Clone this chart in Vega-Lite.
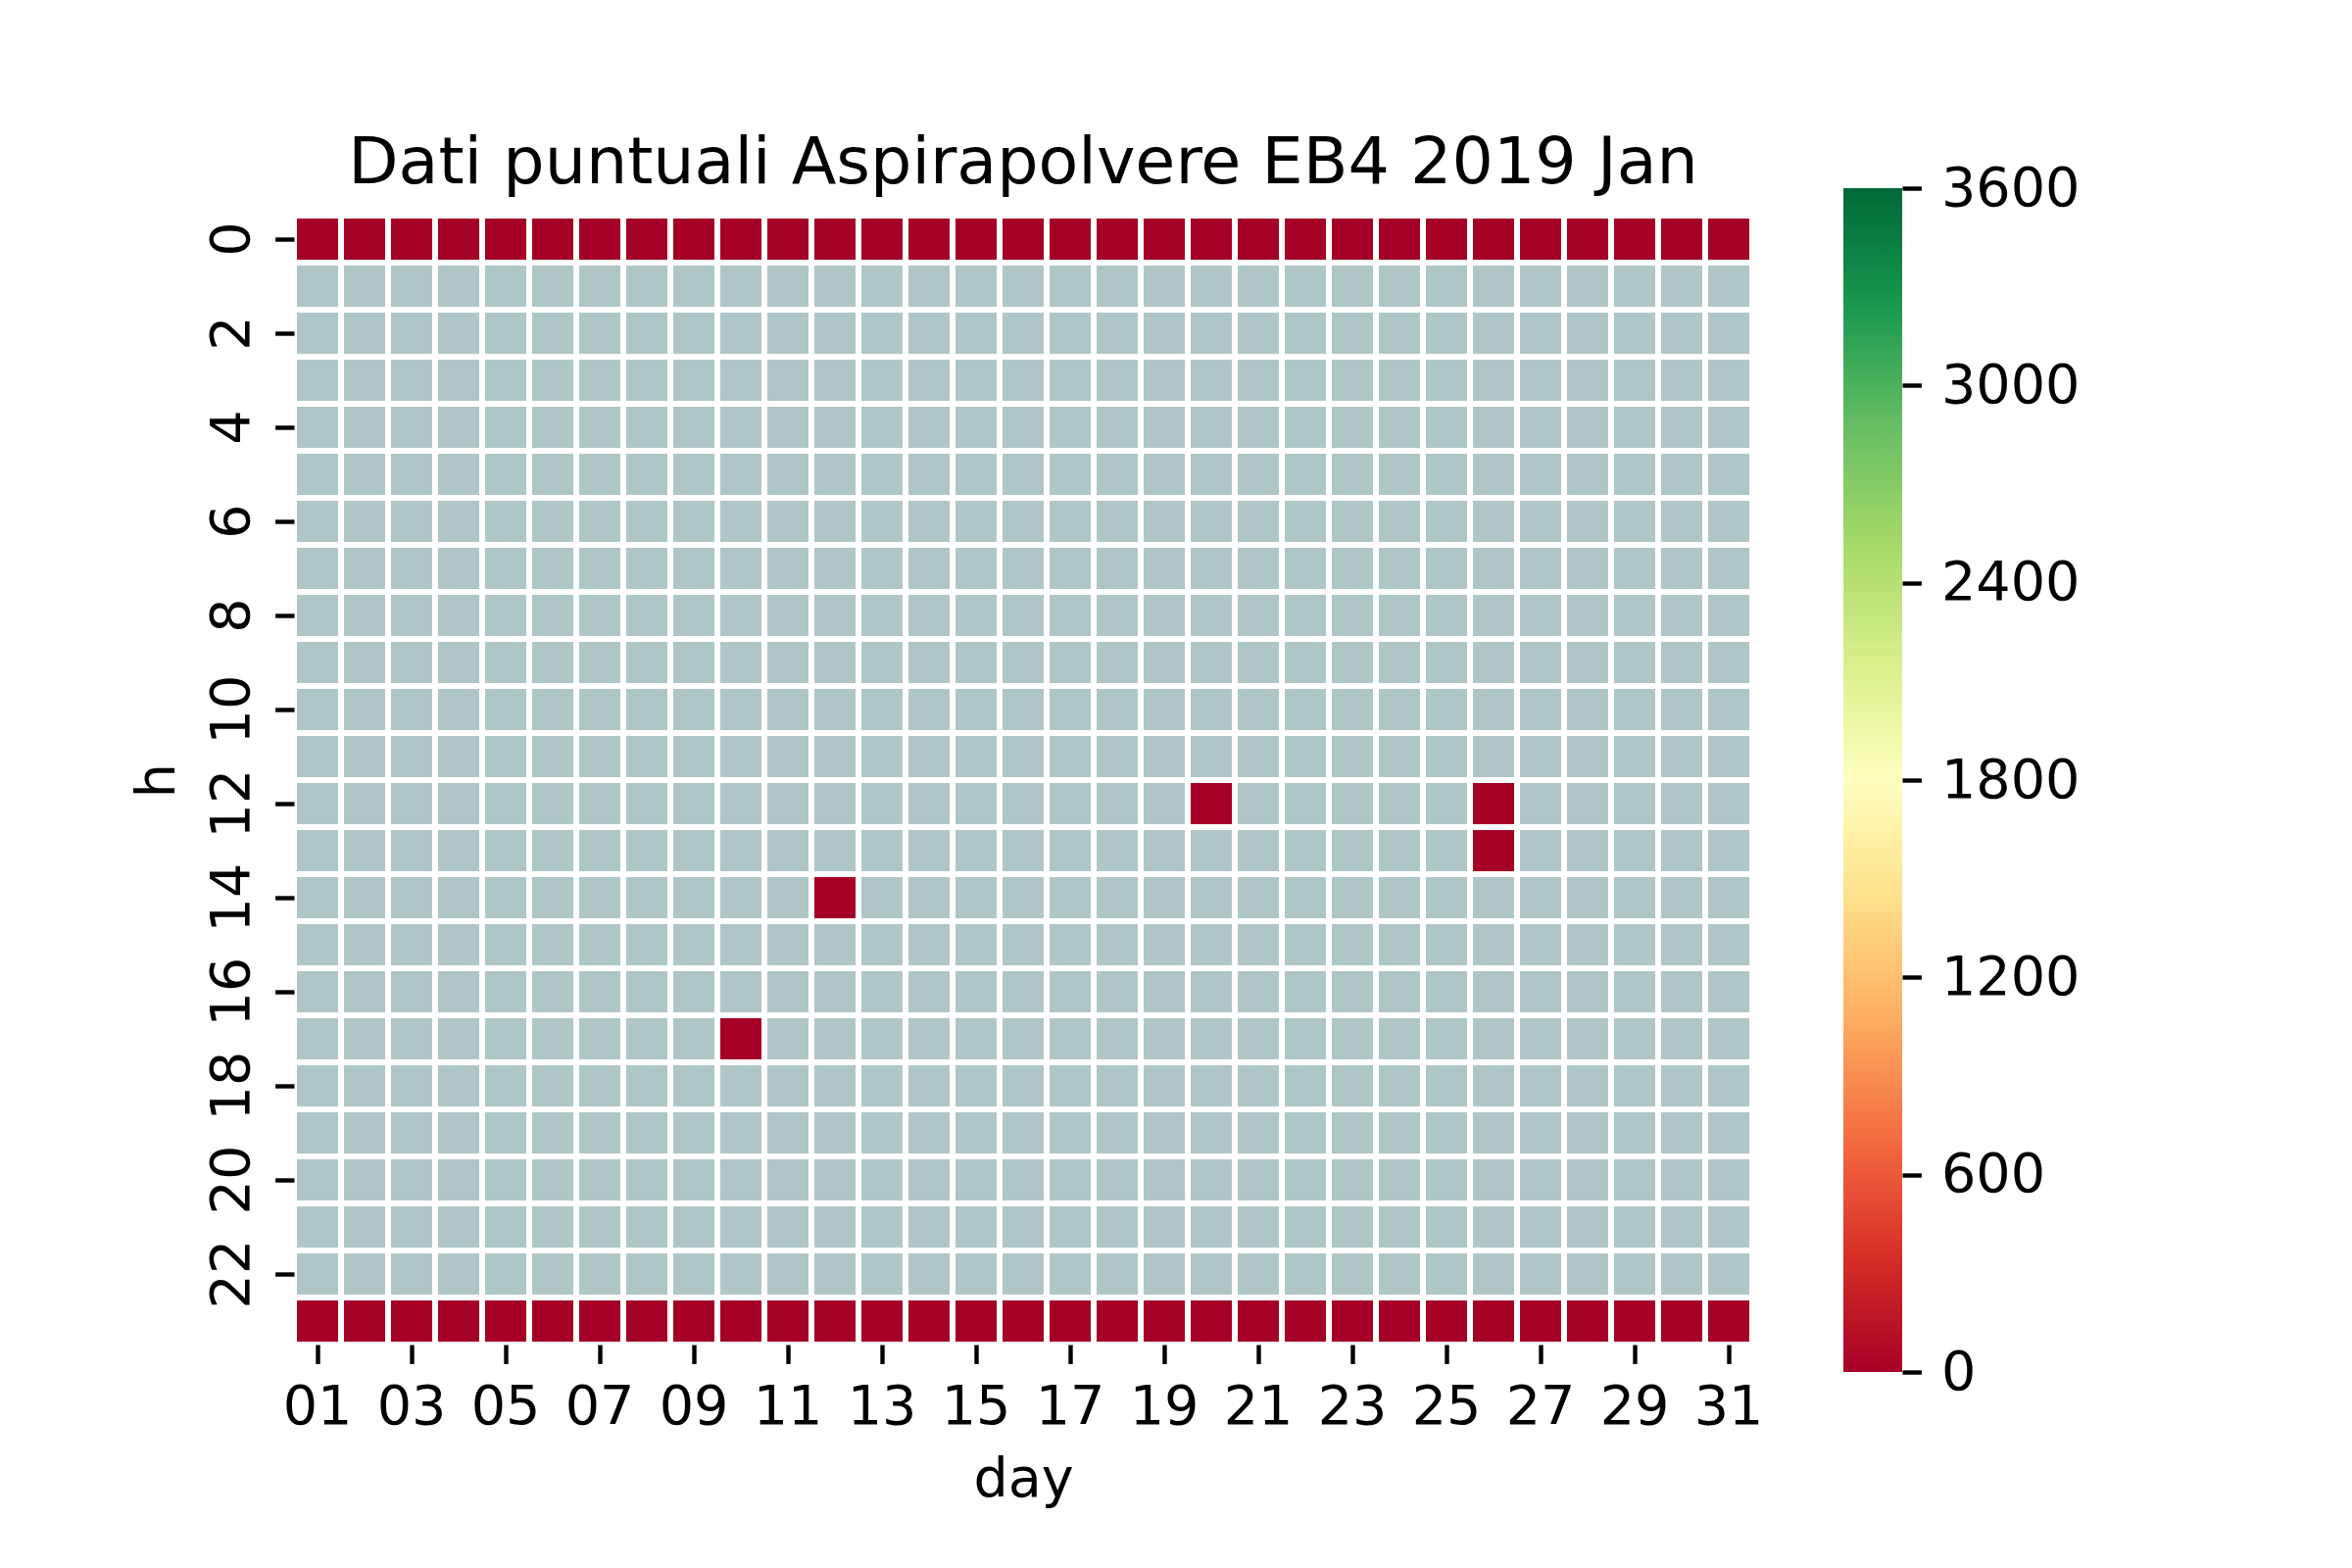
{
  "$schema": "https://vega.github.io/schema/vega-lite/v6.json",
  "padding": {"left": 133, "top": 134, "right": 280, "bottom": 50},
  "background": "white",
  "spacing": 93,
  "bounds": "flush",
  "center": true,
  "config": {
    "font": "DejaVu Sans",
    "view": {"stroke": null},
    "axis": {
      "domain": false,
      "grid": false,
      "tickColor": "black",
      "tickWidth": 4.4,
      "tickSize": 19.4,
      "labelFontSize": 55.6,
      "labelColor": "black",
      "titleFontSize": 55.6,
      "titleFontWeight": "normal",
      "titleColor": "black"
    }
  },
  "hconcat": [
    {
      "width": 1488,
      "height": 1152,
      "title": {
        "text": "Dati puntuali Aspirapolvere EB4 2019 Jan",
        "fontSize": 66.7,
        "fontWeight": "normal",
        "color": "black",
        "offset": -37,
        "baseline": "alphabetic"
      },
      "data": {"values": [
        {"d":1,"h":0,"v":0},{"d":2,"h":0,"v":0},{"d":3,"h":0,"v":0},{"d":4,"h":0,"v":0},{"d":5,"h":0,"v":0},{"d":6,"h":0,"v":0},{"d":7,"h":0,"v":0},{"d":8,"h":0,"v":0},{"d":9,"h":0,"v":0},{"d":10,"h":0,"v":0},{"d":11,"h":0,"v":0},{"d":12,"h":0,"v":0},{"d":13,"h":0,"v":0},{"d":14,"h":0,"v":0},{"d":15,"h":0,"v":0},{"d":16,"h":0,"v":0},{"d":17,"h":0,"v":0},{"d":18,"h":0,"v":0},{"d":19,"h":0,"v":0},{"d":20,"h":0,"v":0},{"d":21,"h":0,"v":0},{"d":22,"h":0,"v":0},{"d":23,"h":0,"v":0},{"d":24,"h":0,"v":0},{"d":25,"h":0,"v":0},{"d":26,"h":0,"v":0},{"d":27,"h":0,"v":0},{"d":28,"h":0,"v":0},{"d":29,"h":0,"v":0},{"d":30,"h":0,"v":0},{"d":31,"h":0,"v":0},
        {"d":1,"h":1},{"d":2,"h":1},{"d":3,"h":1},{"d":4,"h":1},{"d":5,"h":1},{"d":6,"h":1},{"d":7,"h":1},{"d":8,"h":1},{"d":9,"h":1},{"d":10,"h":1},{"d":11,"h":1},{"d":12,"h":1},{"d":13,"h":1},{"d":14,"h":1},{"d":15,"h":1},{"d":16,"h":1},{"d":17,"h":1},{"d":18,"h":1},{"d":19,"h":1},{"d":20,"h":1},{"d":21,"h":1},{"d":22,"h":1},{"d":23,"h":1},{"d":24,"h":1},{"d":25,"h":1},{"d":26,"h":1},{"d":27,"h":1},{"d":28,"h":1},{"d":29,"h":1},{"d":30,"h":1},{"d":31,"h":1},
        {"d":1,"h":2},{"d":2,"h":2},{"d":3,"h":2},{"d":4,"h":2},{"d":5,"h":2},{"d":6,"h":2},{"d":7,"h":2},{"d":8,"h":2},{"d":9,"h":2},{"d":10,"h":2},{"d":11,"h":2},{"d":12,"h":2},{"d":13,"h":2},{"d":14,"h":2},{"d":15,"h":2},{"d":16,"h":2},{"d":17,"h":2},{"d":18,"h":2},{"d":19,"h":2},{"d":20,"h":2},{"d":21,"h":2},{"d":22,"h":2},{"d":23,"h":2},{"d":24,"h":2},{"d":25,"h":2},{"d":26,"h":2},{"d":27,"h":2},{"d":28,"h":2},{"d":29,"h":2},{"d":30,"h":2},{"d":31,"h":2},
        {"d":1,"h":3},{"d":2,"h":3},{"d":3,"h":3},{"d":4,"h":3},{"d":5,"h":3},{"d":6,"h":3},{"d":7,"h":3},{"d":8,"h":3},{"d":9,"h":3},{"d":10,"h":3},{"d":11,"h":3},{"d":12,"h":3},{"d":13,"h":3},{"d":14,"h":3},{"d":15,"h":3},{"d":16,"h":3},{"d":17,"h":3},{"d":18,"h":3},{"d":19,"h":3},{"d":20,"h":3},{"d":21,"h":3},{"d":22,"h":3},{"d":23,"h":3},{"d":24,"h":3},{"d":25,"h":3},{"d":26,"h":3},{"d":27,"h":3},{"d":28,"h":3},{"d":29,"h":3},{"d":30,"h":3},{"d":31,"h":3},
        {"d":1,"h":4},{"d":2,"h":4},{"d":3,"h":4},{"d":4,"h":4},{"d":5,"h":4},{"d":6,"h":4},{"d":7,"h":4},{"d":8,"h":4},{"d":9,"h":4},{"d":10,"h":4},{"d":11,"h":4},{"d":12,"h":4},{"d":13,"h":4},{"d":14,"h":4},{"d":15,"h":4},{"d":16,"h":4},{"d":17,"h":4},{"d":18,"h":4},{"d":19,"h":4},{"d":20,"h":4},{"d":21,"h":4},{"d":22,"h":4},{"d":23,"h":4},{"d":24,"h":4},{"d":25,"h":4},{"d":26,"h":4},{"d":27,"h":4},{"d":28,"h":4},{"d":29,"h":4},{"d":30,"h":4},{"d":31,"h":4},
        {"d":1,"h":5},{"d":2,"h":5},{"d":3,"h":5},{"d":4,"h":5},{"d":5,"h":5},{"d":6,"h":5},{"d":7,"h":5},{"d":8,"h":5},{"d":9,"h":5},{"d":10,"h":5},{"d":11,"h":5},{"d":12,"h":5},{"d":13,"h":5},{"d":14,"h":5},{"d":15,"h":5},{"d":16,"h":5},{"d":17,"h":5},{"d":18,"h":5},{"d":19,"h":5},{"d":20,"h":5},{"d":21,"h":5},{"d":22,"h":5},{"d":23,"h":5},{"d":24,"h":5},{"d":25,"h":5},{"d":26,"h":5},{"d":27,"h":5},{"d":28,"h":5},{"d":29,"h":5},{"d":30,"h":5},{"d":31,"h":5},
        {"d":1,"h":6},{"d":2,"h":6},{"d":3,"h":6},{"d":4,"h":6},{"d":5,"h":6},{"d":6,"h":6},{"d":7,"h":6},{"d":8,"h":6},{"d":9,"h":6},{"d":10,"h":6},{"d":11,"h":6},{"d":12,"h":6},{"d":13,"h":6},{"d":14,"h":6},{"d":15,"h":6},{"d":16,"h":6},{"d":17,"h":6},{"d":18,"h":6},{"d":19,"h":6},{"d":20,"h":6},{"d":21,"h":6},{"d":22,"h":6},{"d":23,"h":6},{"d":24,"h":6},{"d":25,"h":6},{"d":26,"h":6},{"d":27,"h":6},{"d":28,"h":6},{"d":29,"h":6},{"d":30,"h":6},{"d":31,"h":6},
        {"d":1,"h":7},{"d":2,"h":7},{"d":3,"h":7},{"d":4,"h":7},{"d":5,"h":7},{"d":6,"h":7},{"d":7,"h":7},{"d":8,"h":7},{"d":9,"h":7},{"d":10,"h":7},{"d":11,"h":7},{"d":12,"h":7},{"d":13,"h":7},{"d":14,"h":7},{"d":15,"h":7},{"d":16,"h":7},{"d":17,"h":7},{"d":18,"h":7},{"d":19,"h":7},{"d":20,"h":7},{"d":21,"h":7},{"d":22,"h":7},{"d":23,"h":7},{"d":24,"h":7},{"d":25,"h":7},{"d":26,"h":7},{"d":27,"h":7},{"d":28,"h":7},{"d":29,"h":7},{"d":30,"h":7},{"d":31,"h":7},
        {"d":1,"h":8},{"d":2,"h":8},{"d":3,"h":8},{"d":4,"h":8},{"d":5,"h":8},{"d":6,"h":8},{"d":7,"h":8},{"d":8,"h":8},{"d":9,"h":8},{"d":10,"h":8},{"d":11,"h":8},{"d":12,"h":8},{"d":13,"h":8},{"d":14,"h":8},{"d":15,"h":8},{"d":16,"h":8},{"d":17,"h":8},{"d":18,"h":8},{"d":19,"h":8},{"d":20,"h":8},{"d":21,"h":8},{"d":22,"h":8},{"d":23,"h":8},{"d":24,"h":8},{"d":25,"h":8},{"d":26,"h":8},{"d":27,"h":8},{"d":28,"h":8},{"d":29,"h":8},{"d":30,"h":8},{"d":31,"h":8},
        {"d":1,"h":9},{"d":2,"h":9},{"d":3,"h":9},{"d":4,"h":9},{"d":5,"h":9},{"d":6,"h":9},{"d":7,"h":9},{"d":8,"h":9},{"d":9,"h":9},{"d":10,"h":9},{"d":11,"h":9},{"d":12,"h":9},{"d":13,"h":9},{"d":14,"h":9},{"d":15,"h":9},{"d":16,"h":9},{"d":17,"h":9},{"d":18,"h":9},{"d":19,"h":9},{"d":20,"h":9},{"d":21,"h":9},{"d":22,"h":9},{"d":23,"h":9},{"d":24,"h":9},{"d":25,"h":9},{"d":26,"h":9},{"d":27,"h":9},{"d":28,"h":9},{"d":29,"h":9},{"d":30,"h":9},{"d":31,"h":9},
        {"d":1,"h":10},{"d":2,"h":10},{"d":3,"h":10},{"d":4,"h":10},{"d":5,"h":10},{"d":6,"h":10},{"d":7,"h":10},{"d":8,"h":10},{"d":9,"h":10},{"d":10,"h":10},{"d":11,"h":10},{"d":12,"h":10},{"d":13,"h":10},{"d":14,"h":10},{"d":15,"h":10},{"d":16,"h":10},{"d":17,"h":10},{"d":18,"h":10},{"d":19,"h":10},{"d":20,"h":10},{"d":21,"h":10},{"d":22,"h":10},{"d":23,"h":10},{"d":24,"h":10},{"d":25,"h":10},{"d":26,"h":10},{"d":27,"h":10},{"d":28,"h":10},{"d":29,"h":10},{"d":30,"h":10},{"d":31,"h":10},
        {"d":1,"h":11},{"d":2,"h":11},{"d":3,"h":11},{"d":4,"h":11},{"d":5,"h":11},{"d":6,"h":11},{"d":7,"h":11},{"d":8,"h":11},{"d":9,"h":11},{"d":10,"h":11},{"d":11,"h":11},{"d":12,"h":11},{"d":13,"h":11},{"d":14,"h":11},{"d":15,"h":11},{"d":16,"h":11},{"d":17,"h":11},{"d":18,"h":11},{"d":19,"h":11},{"d":20,"h":11},{"d":21,"h":11},{"d":22,"h":11},{"d":23,"h":11},{"d":24,"h":11},{"d":25,"h":11},{"d":26,"h":11},{"d":27,"h":11},{"d":28,"h":11},{"d":29,"h":11},{"d":30,"h":11},{"d":31,"h":11},
        {"d":1,"h":12},{"d":2,"h":12},{"d":3,"h":12},{"d":4,"h":12},{"d":5,"h":12},{"d":6,"h":12},{"d":7,"h":12},{"d":8,"h":12},{"d":9,"h":12},{"d":10,"h":12},{"d":11,"h":12},{"d":12,"h":12},{"d":13,"h":12},{"d":14,"h":12},{"d":15,"h":12},{"d":16,"h":12},{"d":17,"h":12},{"d":18,"h":12},{"d":19,"h":12},{"d":20,"h":12,"v":0},{"d":21,"h":12},{"d":22,"h":12},{"d":23,"h":12},{"d":24,"h":12},{"d":25,"h":12},{"d":26,"h":12,"v":0},{"d":27,"h":12},{"d":28,"h":12},{"d":29,"h":12},{"d":30,"h":12},{"d":31,"h":12},
        {"d":1,"h":13},{"d":2,"h":13},{"d":3,"h":13},{"d":4,"h":13},{"d":5,"h":13},{"d":6,"h":13},{"d":7,"h":13},{"d":8,"h":13},{"d":9,"h":13},{"d":10,"h":13},{"d":11,"h":13},{"d":12,"h":13},{"d":13,"h":13},{"d":14,"h":13},{"d":15,"h":13},{"d":16,"h":13},{"d":17,"h":13},{"d":18,"h":13},{"d":19,"h":13},{"d":20,"h":13},{"d":21,"h":13},{"d":22,"h":13},{"d":23,"h":13},{"d":24,"h":13},{"d":25,"h":13},{"d":26,"h":13,"v":0},{"d":27,"h":13},{"d":28,"h":13},{"d":29,"h":13},{"d":30,"h":13},{"d":31,"h":13},
        {"d":1,"h":14},{"d":2,"h":14},{"d":3,"h":14},{"d":4,"h":14},{"d":5,"h":14},{"d":6,"h":14},{"d":7,"h":14},{"d":8,"h":14},{"d":9,"h":14},{"d":10,"h":14},{"d":11,"h":14},{"d":12,"h":14,"v":0},{"d":13,"h":14},{"d":14,"h":14},{"d":15,"h":14},{"d":16,"h":14},{"d":17,"h":14},{"d":18,"h":14},{"d":19,"h":14},{"d":20,"h":14},{"d":21,"h":14},{"d":22,"h":14},{"d":23,"h":14},{"d":24,"h":14},{"d":25,"h":14},{"d":26,"h":14},{"d":27,"h":14},{"d":28,"h":14},{"d":29,"h":14},{"d":30,"h":14},{"d":31,"h":14},
        {"d":1,"h":15},{"d":2,"h":15},{"d":3,"h":15},{"d":4,"h":15},{"d":5,"h":15},{"d":6,"h":15},{"d":7,"h":15},{"d":8,"h":15},{"d":9,"h":15},{"d":10,"h":15},{"d":11,"h":15},{"d":12,"h":15},{"d":13,"h":15},{"d":14,"h":15},{"d":15,"h":15},{"d":16,"h":15},{"d":17,"h":15},{"d":18,"h":15},{"d":19,"h":15},{"d":20,"h":15},{"d":21,"h":15},{"d":22,"h":15},{"d":23,"h":15},{"d":24,"h":15},{"d":25,"h":15},{"d":26,"h":15},{"d":27,"h":15},{"d":28,"h":15},{"d":29,"h":15},{"d":30,"h":15},{"d":31,"h":15},
        {"d":1,"h":16},{"d":2,"h":16},{"d":3,"h":16},{"d":4,"h":16},{"d":5,"h":16},{"d":6,"h":16},{"d":7,"h":16},{"d":8,"h":16},{"d":9,"h":16},{"d":10,"h":16},{"d":11,"h":16},{"d":12,"h":16},{"d":13,"h":16},{"d":14,"h":16},{"d":15,"h":16},{"d":16,"h":16},{"d":17,"h":16},{"d":18,"h":16},{"d":19,"h":16},{"d":20,"h":16},{"d":21,"h":16},{"d":22,"h":16},{"d":23,"h":16},{"d":24,"h":16},{"d":25,"h":16},{"d":26,"h":16},{"d":27,"h":16},{"d":28,"h":16},{"d":29,"h":16},{"d":30,"h":16},{"d":31,"h":16},
        {"d":1,"h":17},{"d":2,"h":17},{"d":3,"h":17},{"d":4,"h":17},{"d":5,"h":17},{"d":6,"h":17},{"d":7,"h":17},{"d":8,"h":17},{"d":9,"h":17},{"d":10,"h":17,"v":0},{"d":11,"h":17},{"d":12,"h":17},{"d":13,"h":17},{"d":14,"h":17},{"d":15,"h":17},{"d":16,"h":17},{"d":17,"h":17},{"d":18,"h":17},{"d":19,"h":17},{"d":20,"h":17},{"d":21,"h":17},{"d":22,"h":17},{"d":23,"h":17},{"d":24,"h":17},{"d":25,"h":17},{"d":26,"h":17},{"d":27,"h":17},{"d":28,"h":17},{"d":29,"h":17},{"d":30,"h":17},{"d":31,"h":17},
        {"d":1,"h":18},{"d":2,"h":18},{"d":3,"h":18},{"d":4,"h":18},{"d":5,"h":18},{"d":6,"h":18},{"d":7,"h":18},{"d":8,"h":18},{"d":9,"h":18},{"d":10,"h":18},{"d":11,"h":18},{"d":12,"h":18},{"d":13,"h":18},{"d":14,"h":18},{"d":15,"h":18},{"d":16,"h":18},{"d":17,"h":18},{"d":18,"h":18},{"d":19,"h":18},{"d":20,"h":18},{"d":21,"h":18},{"d":22,"h":18},{"d":23,"h":18},{"d":24,"h":18},{"d":25,"h":18},{"d":26,"h":18},{"d":27,"h":18},{"d":28,"h":18},{"d":29,"h":18},{"d":30,"h":18},{"d":31,"h":18},
        {"d":1,"h":19},{"d":2,"h":19},{"d":3,"h":19},{"d":4,"h":19},{"d":5,"h":19},{"d":6,"h":19},{"d":7,"h":19},{"d":8,"h":19},{"d":9,"h":19},{"d":10,"h":19},{"d":11,"h":19},{"d":12,"h":19},{"d":13,"h":19},{"d":14,"h":19},{"d":15,"h":19},{"d":16,"h":19},{"d":17,"h":19},{"d":18,"h":19},{"d":19,"h":19},{"d":20,"h":19},{"d":21,"h":19},{"d":22,"h":19},{"d":23,"h":19},{"d":24,"h":19},{"d":25,"h":19},{"d":26,"h":19},{"d":27,"h":19},{"d":28,"h":19},{"d":29,"h":19},{"d":30,"h":19},{"d":31,"h":19},
        {"d":1,"h":20},{"d":2,"h":20},{"d":3,"h":20},{"d":4,"h":20},{"d":5,"h":20},{"d":6,"h":20},{"d":7,"h":20},{"d":8,"h":20},{"d":9,"h":20},{"d":10,"h":20},{"d":11,"h":20},{"d":12,"h":20},{"d":13,"h":20},{"d":14,"h":20},{"d":15,"h":20},{"d":16,"h":20},{"d":17,"h":20},{"d":18,"h":20},{"d":19,"h":20},{"d":20,"h":20},{"d":21,"h":20},{"d":22,"h":20},{"d":23,"h":20},{"d":24,"h":20},{"d":25,"h":20},{"d":26,"h":20},{"d":27,"h":20},{"d":28,"h":20},{"d":29,"h":20},{"d":30,"h":20},{"d":31,"h":20},
        {"d":1,"h":21},{"d":2,"h":21},{"d":3,"h":21},{"d":4,"h":21},{"d":5,"h":21},{"d":6,"h":21},{"d":7,"h":21},{"d":8,"h":21},{"d":9,"h":21},{"d":10,"h":21},{"d":11,"h":21},{"d":12,"h":21},{"d":13,"h":21},{"d":14,"h":21},{"d":15,"h":21},{"d":16,"h":21},{"d":17,"h":21},{"d":18,"h":21},{"d":19,"h":21},{"d":20,"h":21},{"d":21,"h":21},{"d":22,"h":21},{"d":23,"h":21},{"d":24,"h":21},{"d":25,"h":21},{"d":26,"h":21},{"d":27,"h":21},{"d":28,"h":21},{"d":29,"h":21},{"d":30,"h":21},{"d":31,"h":21},
        {"d":1,"h":22},{"d":2,"h":22},{"d":3,"h":22},{"d":4,"h":22},{"d":5,"h":22},{"d":6,"h":22},{"d":7,"h":22},{"d":8,"h":22},{"d":9,"h":22},{"d":10,"h":22},{"d":11,"h":22},{"d":12,"h":22},{"d":13,"h":22},{"d":14,"h":22},{"d":15,"h":22},{"d":16,"h":22},{"d":17,"h":22},{"d":18,"h":22},{"d":19,"h":22},{"d":20,"h":22},{"d":21,"h":22},{"d":22,"h":22},{"d":23,"h":22},{"d":24,"h":22},{"d":25,"h":22},{"d":26,"h":22},{"d":27,"h":22},{"d":28,"h":22},{"d":29,"h":22},{"d":30,"h":22},{"d":31,"h":22},
        {"d":1,"h":23,"v":0},{"d":2,"h":23,"v":0},{"d":3,"h":23,"v":0},{"d":4,"h":23,"v":0},{"d":5,"h":23,"v":0},{"d":6,"h":23,"v":0},{"d":7,"h":23,"v":0},{"d":8,"h":23,"v":0},{"d":9,"h":23,"v":0},{"d":10,"h":23,"v":0},{"d":11,"h":23,"v":0},{"d":12,"h":23,"v":0},{"d":13,"h":23,"v":0},{"d":14,"h":23,"v":0},{"d":15,"h":23,"v":0},{"d":16,"h":23,"v":0},{"d":17,"h":23,"v":0},{"d":18,"h":23,"v":0},{"d":19,"h":23,"v":0},{"d":20,"h":23,"v":0},{"d":21,"h":23,"v":0},{"d":22,"h":23,"v":0},{"d":23,"h":23,"v":0},{"d":24,"h":23,"v":0},{"d":25,"h":23,"v":0},{"d":26,"h":23,"v":0},{"d":27,"h":23,"v":0},{"d":28,"h":23,"v":0},{"d":29,"h":23,"v":0},{"d":30,"h":23,"v":0},{"d":31,"h":23,"v":0}
      ]},
      "encoding": {
        "x": {
          "field": "d",
          "type": "ordinal",
          "scale": {"paddingInner": 0, "paddingOuter": 0},
          "axis": {
            "title": "day",
            "values": [1, 3, 5, 7, 9, 11, 13, 15, 17, 19, 21, 23, 25, 27, 29, 31],
            "labelExpr": "datum.value < 10 ? '0' + datum.value : '' + datum.value",
            "labelAngle": 0,
            "labelPadding": 17,
            "titlePadding": 18
          }
        },
        "y": {
          "field": "h",
          "type": "ordinal",
          "scale": {"paddingInner": 0, "paddingOuter": 0},
          "axis": {
            "title": "h",
            "values": [0, 2, 4, 6, 8, 10, 12, 14, 16, 18, 20, 22],
            "labelAngle": 270,
            "labelAlign": "center",
            "labelBaseline": "alphabetic",
            "labelPadding": 27,
            "titlePadding": 20
          }
        }
      },
      "layer": [
        {
          "mark": {"type": "rect", "fill": "#afc6c6", "stroke": "white", "strokeWidth": 6}
        },
        {
          "transform": [{"filter": "isValid(datum.v)"}],
          "mark": {"type": "rect", "stroke": "white", "strokeWidth": 6},
          "encoding": {
            "fill": {
              "field": "v",
              "type": "quantitative",
              "scale": {"scheme": "redyellowgreen", "domain": [0, 3600]},
              "legend": null
            }
          }
        }
      ]
    },
    {
      "width": 60,
      "height": 1208,
      "data": {"values": [{"lo": 0, "hi": 3600}]},
      "mark": {
        "type": "rect",
        "fill": {
          "gradient": "linear",
          "x1": 0, "y1": 1, "x2": 0, "y2": 0,
          "stops": [
            {"offset": 0, "color": "#a50026"},
            {"offset": 0.1, "color": "#d73027"},
            {"offset": 0.2, "color": "#f46d43"},
            {"offset": 0.3, "color": "#fdae61"},
            {"offset": 0.4, "color": "#fee08b"},
            {"offset": 0.5, "color": "#ffffbf"},
            {"offset": 0.6, "color": "#d9ef8b"},
            {"offset": 0.7, "color": "#a6d96a"},
            {"offset": 0.8, "color": "#66bd63"},
            {"offset": 0.9, "color": "#1a9850"},
            {"offset": 1, "color": "#006837"}
          ]
        }
      },
      "encoding": {
        "y": {
          "field": "lo",
          "type": "quantitative",
          "scale": {"domain": [0, 3600], "nice": false},
          "axis": {
            "orient": "right",
            "title": null,
            "values": [0, 600, 1200, 1800, 2400, 3000, 3600],
            "format": "d",
            "labelPadding": 20,
            "labelBaseline": "middle"
          }
        },
        "y2": {"field": "hi"}
      }
    }
  ]
}
